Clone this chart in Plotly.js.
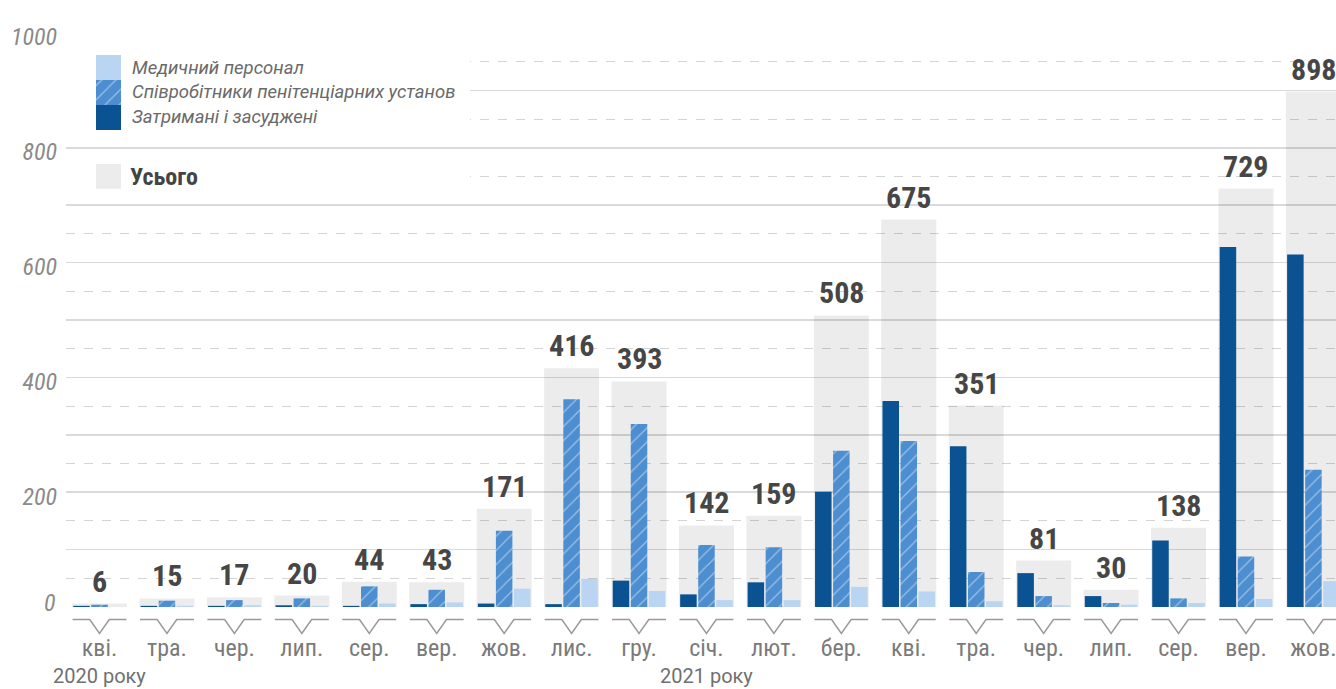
<!DOCTYPE html>
<html>
<head>
<meta charset="utf-8">
<script src="https://cdn.plot.ly/plotly-3.0.1.min.js"></script>
<style>
  html, body { margin: 0; padding: 0; background: #fff; }
  #chart { width: 1336px; height: 689px; }
</style>
</head>
<body>
<div id="chart"></div>
<script>
// ---- data ----
const months = ['кві.','тра.','чер.','лип.','сер.','вер.','жов.','лис.','гру.','січ.','лют.','бер.','кві.','тра.','чер.','лип.','сер.','вер.','жов.'];
const detained = [2, 2, 2, 3, 2, 5, 6, 5, 46, 22, 43, 201, 359, 280, 59, 19, 116, 627, 614];
const staff    = [4, 11, 12, 15, 36, 30, 133, 362, 319, 108, 104, 272, 289, 61, 19, 7, 15, 88, 239];
const medical  = [0, 2, 3, 2, 6, 8, 32, 49, 28, 12, 12, 35, 27, 10, 3, 4, 7, 14, 45];
const totals   = [6, 15, 17, 20, 44, 43, 171, 416, 393, 142, 159, 508, 675, 351, 81, 30, 138, 729, 898];
const yearLabels = ['2020 року', '2021 року'];
const yearStartIndex = [0, 9];
const seriesNames = ['Медичний персонал', 'Співробітники пенітенціарних установ', 'Затримані і засуджені'];
const totalName = 'Усього';
const yTickVals = [100, 200, 300, 400, 500, 600, 700, 800, 900, 1000];
const yTickText = ['', '200', '', '400', '', '600', '', '800', '', '1000'];
const yMinorVals = [50, 150, 250, 350, 450, 550, 650, 750, 850, 950];

// ---- style ----
const C_DARK = '#0a5291';
const C_MID = '#4d8ed0';
const C_LIGHT = '#b9d5f1';
const C_TOTAL = 'rgba(0,0,0,0.075)';
const NARROW = '"Liberation Sans Narrow", "Roboto Condensed", "DejaVu Sans Condensed", Roboto, sans-serif';
const hatch = {shape: '/', fgcolor: 'rgba(255,255,255,0.45)', bgcolor: C_MID, size: 10, solidity: 0.12};

const xs = months.map((_, i) => i);

// pixel -> paper helpers (plot area: top 33, bottom 607.5, left 66, width 1270)
const PT = 33, PB = 607.5, PH = PB - PT, PL = 66, PW = 1270;
const py = p => (PB - p) / PH;
const px = p => (p - PL) / PW;

// legend box geometry in pixels (own axes: x in px, y in px up from the box bottom)
const LB_L = 66, LB_R = 470, LB_T = 45, LB_B = 197;
const up = p => LB_B - p;
function legendBar(x0, x1, yTop, yBot, marker) {
  return {type: 'bar', x: [(x0 + x1) / 2], y: [up(yTop) - up(yBot)], base: [up(yBot)],
    width: x1 - x0, xaxis: 'x2', yaxis: 'y2', marker: marker, hoverinfo: 'skip', showlegend: false};
}

const traces = [
  {
    type: 'bar', name: totalName, x: xs, y: totals, offset: -0.408, width: 0.816,
    marker: {color: C_TOTAL, line: {width: 0}},
    hoverinfo: 'skip', showlegend: false
  },
  {
    type: 'bar', name: seriesNames[2], x: xs, y: detained, offset: -0.39, width: 0.245,
    marker: {color: C_DARK, line: {width: 0}}, hoverinfo: 'skip', showlegend: false
  },
  {
    type: 'bar', name: seriesNames[1], x: xs, y: staff, offset: -0.1225, width: 0.245,
    marker: {color: C_MID, line: {width: 0}, pattern: hatch}, hoverinfo: 'skip', showlegend: false
  },
  {
    type: 'bar', name: seriesNames[0], x: xs, y: medical, offset: 0.145, width: 0.245,
    marker: {color: C_LIGHT, line: {width: 0}}, hoverinfo: 'skip', showlegend: false
  },
  // legend: white backgrounds then swatches
  legendBar(LB_L, LB_R, 45, 135, {color: '#ffffff', line: {width: 0}}),
  legendBar(LB_L, LB_R, 157, 197, {color: '#ffffff', line: {width: 0}}),
  legendBar(96, 121, 55, 80, {color: C_LIGHT, line: {width: 0}}),
  legendBar(96, 121, 80, 105, {color: C_MID, line: {width: 0}, pattern: hatch}),
  legendBar(96, 121, 105, 130, {color: C_DARK, line: {width: 0}}),
  legendBar(96, 121, 164, 189, {color: C_TOTAL, line: {width: 0}})
];

const shapes = [];
// bracket marks under each category
const by0 = py(620), by1 = py(634);
xs.forEach(i => {
  shapes.push({
    type: 'path', xref: 'x', yref: 'paper',
    path: `M ${i - 0.4},${by0} L ${i - 0.145},${by0} L ${i},${by1} L ${i + 0.145},${by0} L ${i + 0.4},${by0}`,
    line: {color: '#9a9a9a', width: 1.5}
  });
});

const annotations = [];
// total labels above the grey bars
totals.forEach((v, i) => {
  annotations.push({xref: 'x', yref: 'y', x: xs[i], y: v, xanchor: 'center', yanchor: 'bottom',
    yshift: 3, showarrow: false, text: String(v),
    font: {family: NARROW, size: 30, color: '#464646', weight: 700}});
});
// y "0" label
annotations.push({xref: 'paper', yref: 'y', x: 0, y: 0, xanchor: 'right', yanchor: 'middle',
  xshift: -8, yshift: 4, showarrow: false, text: '0',
  font: {family: NARROW, size: 24, color: '#8a8a8a', style: 'italic'}});
// year labels
yearLabels.forEach((t, k) => {
  annotations.push({xref: 'x', yref: 'paper', x: yearStartIndex[k], y: py(677),
    xanchor: 'center', yanchor: 'middle', showarrow: false, text: t,
    font: {family: 'Roboto', size: 20, color: '#707070'}});
});
// legend texts
const legendY = [68, 92.5, 117.5];
seriesNames.forEach((t, k) => {
  annotations.push({xref: 'paper', yref: 'paper', x: px(130), y: py(legendY[k]),
    xanchor: 'left', yanchor: 'middle', showarrow: false, text: t,
    font: {family: 'Roboto', size: 18.5, color: '#6a6a6a', style: 'italic'}});
});
annotations.push({xref: 'paper', yref: 'paper', x: px(128), y: py(177),
  xanchor: 'left', yanchor: 'middle', showarrow: false, text: totalName,
  font: {family: NARROW, size: 24, color: '#444444', weight: 700}});

const layout = {
  width: 1336, height: 689,
  margin: {l: PL, r: 0, t: PT, b: 689 - PB},
  paper_bgcolor: '#ffffff', plot_bgcolor: 'rgba(0,0,0,0)',
  barmode: 'overlay',
  font: {family: 'Roboto'},
  showlegend: false,
  xaxis: {
    range: [-0.497, 18.335], tickmode: 'array', tickvals: xs, ticktext: months,
    showgrid: false, zeroline: false, showline: false, ticks: '',
    tickfont: {family: NARROW, size: 24, color: '#7a7a7a'}, ticklabelstandoff: 24,
    ticklabeloverflow: 'allow',
    fixedrange: true
  },
  yaxis: {
    range: [0, 1000], tickmode: 'array', tickvals: yTickVals, ticktext: yTickText,
    showgrid: true, gridcolor: '#dadada', gridwidth: 1.5, zeroline: false, showline: false,
    ticks: '', ticklabelstandoff: 8, ticklabelshift: 4,
    tickfont: {family: NARROW, size: 24, color: '#8a8a8a', style: 'italic'},
    minor: {tickmode: 'array', tickvals: yMinorVals, showgrid: true, gridcolor: '#d4d4d4',
      gridwidth: 1, griddash: 'dash', ticks: ''},
    fixedrange: true
  },
  xaxis2: {domain: [px(LB_L), px(LB_R)], anchor: 'y2', range: [LB_L, LB_R], visible: false, fixedrange: true},
  yaxis2: {domain: [py(LB_B), py(LB_T)], anchor: 'x2', range: [0, LB_B - LB_T], visible: false, fixedrange: true},
  shapes: shapes,
  annotations: annotations
};

Plotly.newPlot('chart', traces, layout, {displayModeBar: false, staticPlot: true});
</script>
</body>
</html>
